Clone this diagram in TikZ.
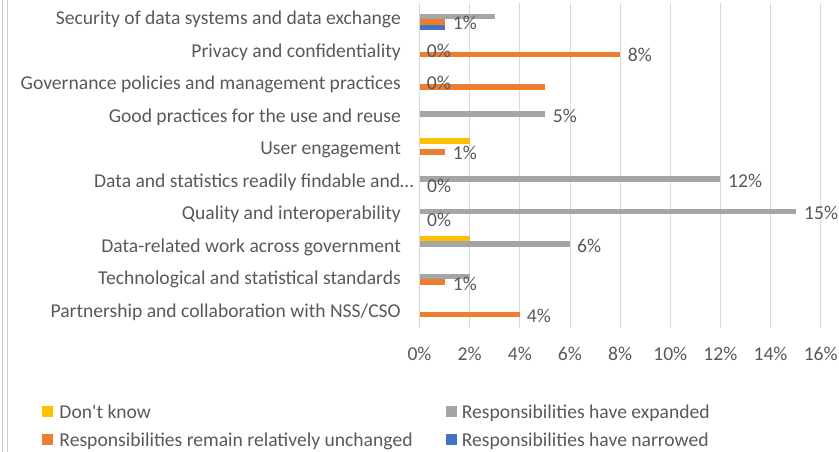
\documentclass[tikz,border=0pt]{standalone}
\usepackage{fontspec}
\setmainfont{Carlito}
\definecolor{txt}{HTML}{595959}
\definecolor{gridc}{HTML}{D9D9D9}
\definecolor{bordc}{HTML}{D0D0D0}
\definecolor{cyel}{HTML}{FFC000}
\definecolor{cgry}{HTML}{A5A5A5}
\definecolor{corg}{HTML}{ED7D31}
\definecolor{cblu}{HTML}{4472C4}
\newcommand{\cbar}[4]{% #1 category index, #2 slot (0..3), #3 value, #4 colour
  \fill[#4] (419.5, {19.3+32.49*#1-10.8+5.4*#2}) rectangle ({419.5+25.07*#3}, {19.3+32.49*#1-5.4+5.4*#2});}
\begin{document}
\begin{tikzpicture}[x=1pt,y=-1pt,
  every node/.style={inner sep=0pt, text=txt, font=\fontsize{19.6}{23}\selectfont},
  catlab/.style={anchor=base east},
  vallab/.style={anchor=base west},
  axlab/.style={anchor=base},
  legtext/.style={anchor=base west},
  legbox/.style={minimum size=11.5pt, inner sep=0pt}]
\useasboundingbox (0,0) rectangle (839,452);
% left border
\draw[bordc, line width=0.7pt] (2.5,0) -- (2.5,452);
\draw[bordc, line width=0.7pt] (7.5,0) -- (7.5,452);
% gridlines
\foreach \k in {0,...,8}
  \draw[gridc, line width=0.8pt] ({419.5+50.15*\k},3) -- ({419.5+50.15*\k},328);
% bars
\cbar{0}{1}{3}{cgry}
\cbar{0}{2}{1}{corg}
\cbar{0}{3}{1}{cblu}
\cbar{1}{2}{8}{corg}
\cbar{2}{2}{5}{corg}
\cbar{3}{1}{5}{cgry}
\cbar{4}{0}{2}{cyel}
\cbar{4}{2}{1}{corg}
\cbar{5}{1}{12}{cgry}
\cbar{6}{1}{15}{cgry}
\cbar{7}{0}{2}{cyel}
\cbar{7}{1}{6}{cgry}
\cbar{8}{1}{2}{cgry}
\cbar{8}{2}{1}{corg}
\cbar{9}{2}{4}{corg}
% category labels
\foreach \i/\t in {0/{Security of data systems and data exchange},
                   1/{Privacy and confidentiality},
                   2/{Governance policies and management practices},
                   3/{Good practices for the use and reuse},
                   4/{User engagement},
                   6/{Quality and interoperability},
                   7/{Data-related work across government},
                   8/{Technological and statistical standards},
                   9/{Partnership and collaboration with NSS/CSO}}
  \node[catlab] (cat\i) at (401, {19.3+32.49*\i+5.5}) {\t};
\node[catlab] (cat5) at (414, {19.3+32.49*5+5.5}) {Data and statistics readily findable and…};
% value labels
\node[vallab] (v0) at (452.7,30) {1\%};
\node[vallab] (v1a) at (426.7,58) {0\%};
\node[vallab] (v1b) at (627.7,62) {8\%};
\node[vallab] (v2) at (426.7,89) {0\%};
\node[vallab] (v3) at (552.7,122) {5\%};
\node[vallab] (v4) at (452.7,159) {1\%};
\node[vallab] (v5a) at (427,192) {0\%};
\node[vallab] (v5b) at (728,187) {12\%};
\node[vallab] (v6a) at (427,226) {0\%};
\node[vallab] (v6b) at (804,219.5) {15\%};
\node[vallab] (v7) at (577,252) {6\%};
\node[vallab] (v8) at (452.7,290) {1\%};
\node[vallab] (v9) at (526.7,322) {4\%};
% axis labels
\foreach \k in {0,...,8}
  \node[axlab] (ax\k) at ({419.5+50.15*\k},360) {\the\numexpr 2*\k\relax\%};
% legend
\node[legbox, fill=cyel] (lb1) at (47.5,411.7) {};
\node[legtext] (lt1) at (59.3,418) {Don\textquotesingle t know};
\node[legbox, fill=corg] (lb2) at (47.5,439.5) {};
\node[legtext] (lt2) at (59.3,446) {Responsibilities remain relatively unchanged};
\node[legbox, fill=cgry] (lb3) at (451.4,411.7) {};
\node[legtext] (lt3) at (461.7,418) {Responsibilities have expanded};
\node[legbox, fill=cblu] (lb4) at (451.4,439.5) {};
\node[legtext] (lt4) at (461.7,446) {Responsibilities have narrowed};
\end{tikzpicture}
\end{document}
